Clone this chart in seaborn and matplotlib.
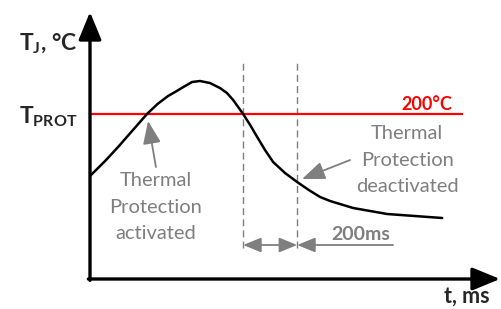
import matplotlib
matplotlib.use('Agg')
import matplotlib.pyplot as plt
import seaborn as sns

# junction temperature curve (time in ms, temperature in degC)
t_ms = [0, 56, 104, 159, 211, 250, 289, 315, 352, 378, 407, 444, 481, 507, 530, 567, 593, 619,
        648, 678, 722, 767, 810, 852, 889, 974, 1100, 1304]
temp_c = [138, 153, 167, 184, 200, 210, 218, 222, 228, 232, 233, 231, 226, 221, 214, 200, 189, 177,
          164, 152, 141, 132, 124, 117, 113, 106, 100, 96]

t_prot = 200          # protection threshold, degC
t_cross = 567         # curve falls back below T_PROT here
delay_ms = 200        # protection stays on for this long
t_deact = t_cross + delay_ms

GRAY = '#7f7f7f'

sns.set_theme(style='white')
plt.rcParams['font.family'] = ['Lato', 'DejaVu Sans']
plt.rcParams['mathtext.fontset'] = 'custom'
plt.rcParams['mathtext.rm'] = 'Lato'
plt.rcParams['mathtext.bf'] = 'Lato:bold'

fig = plt.figure(figsize=(5.02, 3.09), dpi=100)
ax = fig.add_axes([90 / 502, 30 / 309, 410 / 502, 267 / 309])
ax.set_xlim(0, 1518)
ax.set_ylim(35, 302)
for s in ax.spines.values():
    s.set_visible(False)
ax.set_xticks([])
ax.set_yticks([])
ax.patch.set_alpha(0)

# threshold line
ax.hlines(t_prot, 0, 1381, color='#ff0000', lw=1.6, zorder=2)

# temperature curve
sns.lineplot(x=t_ms, y=temp_c, ax=ax, color='black', lw=1.8, zorder=3,
             solid_joinstyle='round', solid_capstyle='round')

# dashed markers for the 200 ms window
ax.vlines([t_cross, t_deact], 66, 251, color=GRAY, lw=1.0, linestyles=(0, (5, 3)), zorder=1)

arrow_kw = dict(color=GRAY, lw=1.3, shrinkA=0, shrinkB=0, mutation_scale=10)
ax.annotate('', xy=(t_cross, 69), xytext=(t_deact, 69),
            arrowprops=dict(arrowstyle='<|-|>,head_length=1.1,head_width=0.45', **arrow_kw))
ax.annotate('', xy=(t_deact, 69), xytext=(1122, 69),
            arrowprops=dict(arrowstyle='-|>,head_length=1.1,head_width=0.45', **arrow_kw))
ax.text(1004, 74, '200ms', color=GRAY, fontsize=14, fontweight='bold', ha='center', va='baseline')

# pointer arrows
ax.annotate('', xy=(215, 193), xytext=(244, 147),
            arrowprops=dict(arrowstyle='-|>,head_length=1.4,head_width=0.55', **arrow_kw))
ax.annotate('', xy=(785, 135), xytext=(963, 154),
            arrowprops=dict(arrowstyle='-|>,head_length=1.4,head_width=0.55', **arrow_kw))

ax.text(244, 107, 'Thermal\nProtection\nactivated', color=GRAY, fontsize=14.5,
        ha='center', va='center', linespacing=1.65)
ax.text(1174, 154, 'Thermal\nProtection\ndeactivated', color=GRAY, fontsize=14.5,
        ha='center', va='center', linespacing=1.65)

ax.text(1341, 204, '200°C', color='#ff0000', fontsize=13, fontweight='bold', ha='right', va='baseline')

# axes with arrow heads
axis_kw = dict(arrowstyle='-|>,head_length=1.7,head_width=0.7', lw=2.4, color='black',
               shrinkA=0, shrinkB=0, mutation_scale=10)
ax.annotate('', xy=(0, 1), xytext=(0, -0.005), xycoords='axes fraction', arrowprops=axis_kw)
ax.annotate('', xy=(1, 0), xytext=(-0.004, 0), xycoords='axes fraction', arrowprops=axis_kw)

ax.text(-44, 264, r'T$_{\mathbf{J}}$, °C', fontsize=16.5, fontweight='bold', ha='right',
        va='baseline', clip_on=False)
ax.text(-47, 191, r'T$_{\mathbf{PROT}}$', fontsize=16.5, fontweight='bold', ha='right',
        va='baseline', clip_on=False)
ax.text(1481, 11, 't, ms', fontsize=15.5, fontweight='bold', ha='right', va='baseline', clip_on=False)

fig.savefig('out.png', dpi=100)
